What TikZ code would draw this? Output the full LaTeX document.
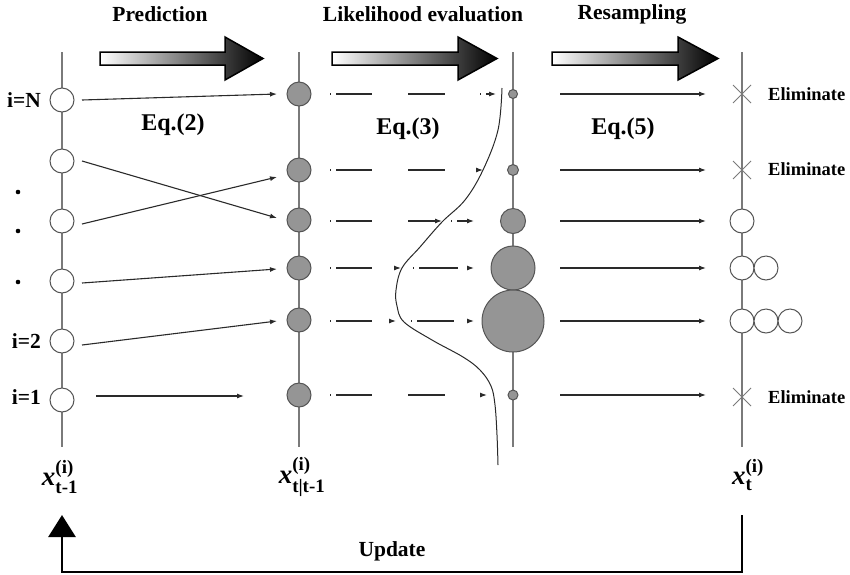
\documentclass[tikz,border=0pt]{standalone}
\usepackage{amsmath}
\usepackage{fontspec}
\setmainfont{Liberation Serif}
\usetikzlibrary{arrows.meta,calc}
\definecolor{linegray}{HTML}{7A7A7A}
\definecolor{circline}{HTML}{555555}
\definecolor{ballgray}{HTML}{959595}
\definecolor{arrdark}{HTML}{2A2A2A}
\begin{document}
\begin{tikzpicture}[x=1pt,y=-1pt,
  colline/.style={draw=linegray, line width=1.3pt},
  wcirc/.style={circle, draw=circline, fill=white, line width=1pt, inner sep=0pt, minimum size=24pt},
  gcirc/.style={circle, draw=circline, fill=ballgray, line width=1pt, inner sep=0pt, minimum size=#1},
  gcirc/.default=24pt,
  lab/.style={font=\fontsize{21.5}{24}\selectfont\bfseries, inner sep=0pt},
  elim/.style={font=\fontsize{18.5}{22}\selectfont\bfseries, inner sep=0pt},
  eqlab/.style={font=\fontsize{24}{27}\selectfont\bfseries, inner sep=0pt},
  xlab/.style={font=\fontsize{27}{30}\selectfont, inner sep=0pt},
  conn/.style={draw=arrdark, line width=1.1pt, -{Latex[length=7pt,width=5pt]}},
  ddline/.style={draw=arrdark, line width=1.1pt, -{Latex[length=7pt,width=5pt]},
     dash pattern=on 1pt off 5pt on 36pt off 36pt on 37pt off 35pt},
  ddtail/.style={draw=arrdark, line width=1.1pt, -{Latex[length=7pt,width=5pt]},
     dash pattern=on 1pt off 5pt on #1 off 100pt},
  bigarrow/.style={left color=white, right color=black, draw=black, line width=1.5pt},
  xmark/.style={draw=linegray, line width=1pt},
]
\useasboundingbox (0,0) rectangle (850,574);

% headers
\node[lab] (hpred) at (160,14) {Prediction};
\node[lab] (hlike) at (423,14) {Likelihood evaluation};
\node[lab] (hres) at (632,14) {Resampling};

% big gradient arrows
\shadedraw[bigarrow] (100,52) -- (225,52) -- (225,37) -- (263,58.5) -- (225,80) -- (225,65) -- (100,65) -- cycle;
\shadedraw[bigarrow] (332,52) -- (458,52) -- (458,37) -- (497,58.5) -- (458,80) -- (458,65) -- (332,65) -- cycle;
\shadedraw[bigarrow] (552,52) -- (678,52) -- (678,37) -- (718,58.5) -- (678,80) -- (678,65) -- (552,65) -- cycle;

% equation labels
\node[eqlab] (eq2) at (173,125) {Eq.(2)};
\node[eqlab] (eq3) at (408,129) {Eq.(3)};
\node[eqlab] (eq5) at (623,129) {Eq.(5)};

% column lines
\draw[colline] (62,52) -- (62,447);
\draw[colline] (299,52) -- (299,447);
\draw[colline] (513,52) -- (513,447);
\draw[colline] (742,52) -- (742,447);

% likelihood curve
\draw[draw=arrdark, line width=1pt] plot[smooth, tension=0.6] coordinates {
  (502,88) (498,130) (483,170) (465,200) (442,222) (420,247) (402,268)
  (396,290) (397,306) (404,322) (432,340) (463,357) (480,370) (491,386)
  (495,405) (497,435) (498,465)};

% left column particles
\node[wcirc] (L1) at (62,100) {};
\node[wcirc] (L2) at (62,161) {};
\node[wcirc] (L3) at (62,221) {};
\node[wcirc] (L4) at (62,281) {};
\node[wcirc] (L5) at (62,341) {};
\node[wcirc] (L6) at (62,400) {};

\node[lab, anchor=east] (iN) at (41,100) {i=N};
\node[lab, anchor=east] (i2) at (41,341) {i=2};
\node[lab, anchor=east] (i1) at (41,397) {i=1};
\fill[black] (18,192) circle (2.3pt);
\fill[black] (18,231) circle (2.3pt);
\fill[black] (18,282) circle (2.3pt);

% predicted particles
\node[gcirc] (G1) at (299,94) {};
\node[gcirc] (G2) at (299,170) {};
\node[gcirc] (G3) at (299,220) {};
\node[gcirc] (G4) at (299,268) {};
\node[gcirc] (G5) at (299,320) {};
\node[gcirc] (G6) at (299,395) {};

% weighted particles
\node[gcirc=9pt] (W1) at (513,94) {};
\node[gcirc=11pt] (W2) at (513,170) {};
\node[gcirc=25pt] (W3) at (513,221) {};
\node[gcirc=44pt] (W4) at (513,268) {};
\node[gcirc=62pt] (W5) at (513,321) {};
\node[gcirc=10pt] (W6) at (513,395) {};

% resampled particles
\node[wcirc] (R3) at (742,221) {};
\node[wcirc] (R4a) at (742,268) {};
\node[wcirc] (R4b) at (766,268) {};
\node[wcirc] (R5a) at (742,321) {};
\node[wcirc] (R5b) at (766,321) {};
\node[wcirc] (R5c) at (790,321) {};
\coordinate (X1) at (742,94);
\coordinate (X2) at (742,170);
\coordinate (X6) at (742,397);
\foreach \c in {X1,X2,X6}{
  \draw[xmark] ($(\c)+(-9,-9)$) -- ($(\c)+(9,9)$);
  \draw[xmark] ($(\c)+(-9,9)$) -- ($(\c)+(9,-9)$);
}
\node[elim, anchor=west] (el1) at (768,94) {Eliminate};
\node[elim, anchor=west] (el2) at (768,169) {Eliminate};
\node[elim, anchor=west] (el6) at (768,397) {Eliminate};

% prediction connectors
\coordinate (pa1) at (82,100);  \coordinate (pb1) at (277,94);
\coordinate (pa2) at (82,161);  \coordinate (pb2) at (277,218);
\coordinate (pa3) at (82,224);  \coordinate (pb3) at (277,177);
\coordinate (pa4) at (82,283);  \coordinate (pb4) at (277,269);
\coordinate (pa5) at (82,345);  \coordinate (pb5) at (277,321);
\coordinate (pa6) at (96,396);  \coordinate (pb6) at (244,396);
\foreach \i in {1,...,6}{ \draw[conn] (pa\i) -- (pb\i); }

% likelihood connectors (first part, up to the curve)
\coordinate (la1) at (330,94);  \coordinate (lb1) at (496,94);
\coordinate (la2) at (330,170); \coordinate (lb2) at (483,170);
\coordinate (la3) at (330,221); \coordinate (lb3) at (442,221);
\coordinate (la4) at (330,268); \coordinate (lb4) at (401,268);
\coordinate (la5) at (330,321); \coordinate (lb5) at (396,321);
\coordinate (la6) at (330,395); \coordinate (lb6) at (487,395);
\foreach \i in {1,...,6}{ \draw[ddline] (la\i) -- (lb\i); }
% continuation after the curve
\coordinate (lc3) at (451,221); \coordinate (ld3) at (474,221);
\coordinate (lc4) at (413,268); \coordinate (ld4) at (474,268);
\coordinate (lc5) at (411,321); \coordinate (ld5) at (474,321);
\draw[ddtail=10pt] (lc3) -- (ld3);
\draw[ddtail=39pt] (lc4) -- (ld4);
\draw[ddtail=37pt] (lc5) -- (ld5);

% resampling connectors
\foreach \y [count=\i] in {94,170,221,268,321,395}{
  \coordinate (ra\i) at (560,\y);
  \coordinate (rb\i) at (706,\y);
  \draw[conn] (ra\i) -- (rb\i);
}

% bottom labels
\node[xlab] (xprev) at (60,477) {$\textbf{\textit{x}}^{\textbf{(i)}}_{\textbf{t-1}}$};
\node[xlab] (xpred) at (302,477) {$\textbf{\textit{x}}^{\textbf{(i)}}_{\textbf{t|t-1}}$};
\node[xlab] (xnew) at (748,475) {$\textbf{\textit{x}}^{\textbf{(i)}}_{\textbf{t}}$};

% update loop
\coordinate (u0) at (742,515);
\coordinate (u1) at (62,515);
\draw[line width=2.8pt, -{Triangle[length=22pt,width=27pt]}] (u0) -- (742,572) -- (62,572) -- (u1);
\node[lab] (upd) at (392,551) {Update};
\end{tikzpicture}
\end{document}
